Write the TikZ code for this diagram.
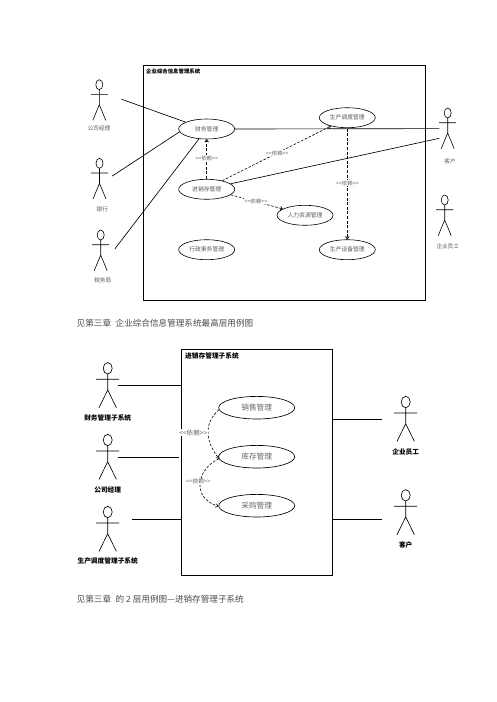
\documentclass[tikz,border=0pt]{standalone}
\usepackage{fontspec}
\setmainfont{Noto Sans CJK SC}
\usetikzlibrary{shapes.geometric,arrows.meta}
\newcommand{\yilai}{<{}<依赖>{}>}
\tikzset{
  sysbox/.style={draw=black,line width=0.9pt},
  line/.style={draw=black,line width=0.65pt},
  dep/.style={draw=black,line width=0.6pt,dash pattern=on 2.6pt off 1.6pt,-{Straight Barb[length=2.2pt,width=3.6pt]}},
  depthick/.style={dep,line width=0.85pt,dash pattern=on 3pt off 1.6pt},
  ucsmall/.style={ellipse,draw=black,line width=0.6pt,minimum width=56pt,minimum height=20pt,inner sep=0pt,font=\fontsize{5.8}{6}\selectfont,text=black!65},
  ucbig/.style={ellipse,draw=black,line width=0.65pt,minimum width=76pt,minimum height=22.6pt,inner sep=0pt,font=\fontsize{7.7}{8}\selectfont,text=black!60},
  lab/.style={inner sep=0pt,font=\fontsize{5.6}{6}\selectfont,text=black!65},
  deplab/.style={fill=white,inner sep=0.4pt,font=\fontsize{5.4}{6}\selectfont,text=black!60},
  biglab/.style={inner sep=0pt,font=\fontsize{6.7}{7}\selectfont\bfseries,text=black},
  title/.style={inner sep=0pt,anchor=west,text=black},
  caption/.style={inner sep=0pt,anchor=west,font=\fontsize{8.6}{10}\selectfont,text=black!70},
  smallactor/.pic={
    \draw[line width=0.6pt] (0,0) ellipse (3.5 and 5);
    \draw[line width=0.6pt] (0,5) -- (0,20) (-8.5,9.7) -- (8.5,9.7) (-6.5,35.7) -- (0,20) -- (6.5,35.7);
  },
  bigactor/.pic={
    \draw[line width=0.65pt] (0,0) ellipse (4.5 and 5.7);
    \draw[line width=0.65pt] (0,5.7) -- (0,21.7) (-11.5,11) -- (11.5,11) (-8.7,39.4) -- (0,21.7) (8.7,39.4) -- (0,21.7);
  }
}
\begin{document}
\begin{tikzpicture}[x=1pt,y=-1pt]
\useasboundingbox (0,0) rectangle (496,702);
\fill[white] (0,0) rectangle (496,702);

% top diagram
\node[sysbox,minimum width=282.4pt,minimum height=235.4pt,inner sep=0pt] (sys1) at (284.5,183) {};
\node[title,font=\fontsize{5.4}{6}\selectfont\bfseries] (t1) at (146,71) {企业综合信息管理系统};

\node[ucsmall] (cw) at (206.7,129) {财务管理};
\node[ucsmall] (jx) at (206.7,189.3) {进销存管理};
\node[ucsmall] (xz) at (206.7,249.7) {行政事务管理};
\node[ucsmall] (sc) at (347.3,117.7) {生产调度管理};
\node[ucsmall] (rl) at (305,215.3) {人力资源管理};
\node[ucsmall] (sb) at (347.3,249.7) {生产设备管理};

\pic at (99.3,84.7) {smallactor};
\pic at (99.5,163.3) {smallactor};
\pic at (100.7,235) {smallactor};
\pic at (447.7,113) {smallactor};
\pic at (444.7,200) {smallactor};
\node[lab] (a1) at (99,128.3) {公司经理};
\node[lab] (a2) at (102.3,209) {银行};
\node[lab] (a3) at (102.7,280.7) {税务局};
\node[lab] (a4) at (450,161.3) {客户};
\node[lab] (a5) at (447.7,246.3) {企业员工};

\coordinate (p1) at (121.7,99.3);
\coordinate (p2) at (112.3,176);
\coordinate (p3) at (115,248.7);
\coordinate (p4) at (439.3,128.6);
\coordinate (p5) at (439.3,138.3);
\draw[line] (p1) -- (cw.162);
\draw[line] (p2) -- (cw.186);
\draw[line] (p3) -- (cw.-128);
\draw[line] (cw.east) -- (p4);
\draw[line] (jx.13) -- (p5);

\draw[depthick] (jx.north) -- (cw.south);
\draw[dep] (jx.29) -- (sc.207);
\draw[dep] (jx.-13) -- (rl.164);
\coordinate (scb) at (347.3,128.6);
\draw[depthick] (scb) -- (sb.north);

\node[deplab] (d1) at (206.7,158.3) {\yilai};
\node[deplab] (d2) at (277.3,153.3) {\yilai};
\node[deplab] (d3) at (256,201.3) {\yilai};
\node[deplab] (d4) at (347.3,183.3) {\yilai};

\node[caption] (c1) at (76.5,323) {见第三章\hspace{4.6pt}企业综合信息管理系统最高层用例图};

% bottom diagram
\node[sysbox,minimum width=151pt,minimum height=226pt,inner sep=0pt] (sys2) at (257.2,462.3) {};
\node[title,font=\fontsize{6.7}{7}\selectfont\bfseries] (t2) at (185,356) {进销存管理子系统};

\node[ucbig] (xs) at (256.7,407.7) {销售管理};
\node[ucbig] (kc) at (256.7,456.7) {库存管理};
\node[ucbig] (cg) at (256.7,505.7) {采购管理};

\pic at (107.7,368.3) {bigactor};
\pic at (107.7,440) {bigactor};
\pic at (107.7,512) {bigactor};
\pic at (405.7,402) {bigactor};
\pic at (405.7,495.3) {bigactor};
\node[biglab] (b1) at (107.7,417.7) {财务管理子系统};
\node[biglab] (b2) at (107.7,489.7) {公司经理};
\node[biglab] (b3) at (107.7,561.3) {生产调度管理子系统};
\node[biglab] (b4) at (405.7,452) {企业员工};
\node[biglab] (b5) at (405.7,545) {客户};

\coordinate (q1) at (118.3,385.3);
\coordinate (q1b) at (181.7,385.3);
\coordinate (q2) at (118.3,457.3);
\coordinate (q2b) at (179.3,457.3);
\coordinate (q3) at (131.7,519.3);
\coordinate (q3b) at (181.7,519.3);
\coordinate (q4) at (381.7,419.3);
\coordinate (q4b) at (332.7,419.3);
\coordinate (q5) at (381.7,519.3);
\coordinate (q5b) at (332.7,519.3);
\draw[line] (q1) -- (q1b);
\draw[line] (q2) -- (q2b);
\draw[line] (q3) -- (q3b);
\draw[line] (q4b) -- (q4);
\draw[line] (q5b) -- (q5);

\draw[dep] (xs.183) .. controls (207,420) and (202,437) .. (kc.183);
\draw[dep] (kc.183) .. controls (198,468) and (190,497) .. (cg.181);

\node[deplab,font=\fontsize{6.6}{7}\selectfont] (d5) at (193.3,432.7) {\yilai};
\node[deplab,font=\fontsize{5.8}{7}\selectfont] (d6) at (198.3,481.7) {\yilai};

\node[caption] (c2) at (76.5,599) {见第三章\hspace{4.6pt}的 2 层用例图—进销存管理子系统};
\end{tikzpicture}
\end{document}
